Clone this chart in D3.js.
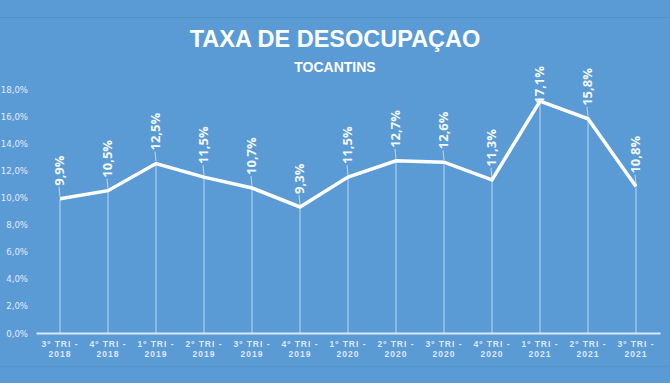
<!DOCTYPE html>
<html>
<head>
<meta charset="utf-8">
<script src="https://cdn.jsdelivr.net/npm/d3@7"></script>
<style>
  body { margin: 0; background: #5b9bd5; }
  svg { display: block; }
</style>
</head>
<body>
<svg id="chart"></svg>
<script>
// quarters (two-line tick labels)
var quarters = ['3º TRI -', '4º TRI -', '1º TRI -', '2º TRI -', '3º TRI -', '4º TRI -', '1º TRI -',
	'2º TRI -', '3º TRI -', '4º TRI -', '1º TRI -', '2º TRI -', '3º TRI -'];
var years = ['2018', '2018', '2019', '2019', '2019', '2019', '2020',
	'2020', '2020', '2020', '2021', '2021', '2021'];
var rates = [9.9, 10.5, 12.5, 11.5, 10.7, 9.3, 11.5, 12.7, 12.6, 11.3, 17.1, 15.8, 10.8];
var yTicks = [0, 2, 4, 6, 8, 10, 12, 14, 16, 18];

var w = 670, h = 383;

var svg = d3.select('#chart').attr('width', w).attr('height', h);

svg.append('rect').attr('width', w).attr('height', h).attr('fill', '#5b9bd5');

// faint slide edges
svg.append('line').attr('x1', 0).attr('x2', w).attr('y1', 17.5).attr('y2', 17.5)
	.attr('stroke', 'rgba(0,0,0,0.07)');
svg.append('line').attr('x1', 0).attr('x2', w).attr('y1', 366.5).attr('y2', 366.5)
	.attr('stroke', 'rgba(0,0,0,0.05)');

var idx = d3.range(rates.length);

// X scale
var x = d3.scaleBand()
	.domain(idx)
	.range([36, 660]);

// Y scale
var y = d3.scaleLinear()
	.domain([0, 18])
	.range([333, 89]);

function cx(i) { return x(i) + x.bandwidth() / 2; }

// title
svg.append('text')
	.attr('x', 335).attr('y', 47)
	.attr('text-anchor', 'middle')
	.attr('font-family', 'Liberation Sans, Arial, sans-serif')
	.attr('font-weight', 'bold')
	.attr('font-size', 23.5)
	.attr('fill', '#fff')
	.text('TAXA DE DESOCUPAÇAO');

svg.append('text')
	.attr('x', 335).attr('y', 72)
	.attr('text-anchor', 'middle')
	.attr('font-family', 'Liberation Sans, Arial, sans-serif')
	.attr('font-weight', 'bold')
	.attr('font-size', 14)
	.attr('fill', '#fff')
	.text('TOCANTINS');

// Y axis labels
var yAxis = svg.append('g')
	.attr('transform', 'translate(28,0)')
	.call(d3.axisLeft(y).tickValues(yTicks).tickSize(0).tickPadding(0)
		.tickFormat(function(d) { return d.toFixed(1).replace('.', ',') + '%'; }));
yAxis.select('.domain').remove();
yAxis.selectAll('text')
	.attr('font-family', 'Liberation Sans Narrow, Arial Narrow, DejaVu Sans Condensed, sans-serif')
	.attr('font-size', 9.5)
	.attr('fill', '#e3ecf6');

// drop lines
svg.append('g').selectAll('line')
	.data(idx)
	.enter().append('line')
	.attr('x1', cx).attr('x2', cx)
	.attr('y1', function(i) { return y(rates[i]); })
	.attr('y2', y(0))
	.attr('stroke', 'rgba(255,255,255,0.6)')
	.attr('stroke-width', 1);

// X axis
var xAxis = svg.append('g')
	.attr('transform', 'translate(0,' + y(0) + ')')
	.call(d3.axisBottom(x).tickSize(0).tickFormat(''));
xAxis.select('.domain')
	.attr('stroke', '#dce7f3')
	.attr('stroke-width', 2);

var tickText = xAxis.selectAll('.tick').append('text')
	.attr('text-anchor', 'middle')
	.attr('font-family', 'Liberation Sans, Arial, sans-serif')
	.attr('font-weight', 'bold')
	.attr('font-size', 8.5)
	.attr('letter-spacing', 1)
	.attr('fill', '#dfe9f5');
tickText.append('tspan').attr('x', 0).attr('y', 14).text(function(i) { return quarters[i]; });
tickText.append('tspan').attr('x', 0).attr('y', 24).text(function(i) { return years[i]; });

// line
var line = d3.line()
	.x(cx)
	.y(function(i) { return y(rates[i]); });

svg.append('path')
	.datum(idx)
	.attr('d', line)
	.attr('fill', 'none')
	.attr('stroke', '#fff')
	.attr('stroke-width', 3.5)
	.attr('stroke-linejoin', 'miter');

// data labels, rotated
var labels = svg.append('g').selectAll('g')
	.data(idx)
	.enter().append('g');

labels.each(function(i) {
	var g = d3.select(this);
	var px = cx(i), py = y(rates[i]);
	var t = g.append('text')
		.attr('font-family', 'Open Sans, sans-serif')
		.attr('font-weight', 700)
		.attr('font-size', 13)
		.attr('fill', '#f4f8fc')
		.attr('dy', '0.36em')
		.text(rates[i].toFixed(1).replace('.', ',') + '%');
	var len = t.node().getComputedTextLength();
	var bottom = py - 13;
	if (bottom - len < 66) bottom = 66 + len; // keep inside chart area
	t.attr('transform', 'translate(' + (px - 1) + ',' + bottom + ') rotate(-90)');
	if (py - bottom > 6) {
		g.append('line')
			.attr('x1', px - 1).attr('y1', bottom + 1)
			.attr('x2', px).attr('y2', py - 2)
			.attr('stroke', 'rgba(255,255,255,0.6)')
			.attr('stroke-width', 1);
	}
});
</script>
</body>
</html>
